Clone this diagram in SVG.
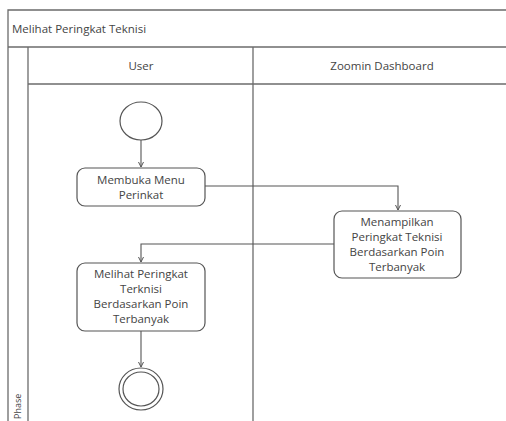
<svg xmlns="http://www.w3.org/2000/svg" width="506" height="421" viewBox="0 0 506 421">
<style>
.frame{fill:none;stroke:#6b6b6b;stroke-width:1.3}
.node{fill:#fff;stroke:#555;stroke-width:1.2}
.edge{fill:none;stroke:#555;stroke-width:1.1}
text{font-family:"Open Sans","Liberation Sans",sans-serif;font-size:11.5px;fill:#444}
.c{text-anchor:middle}
</style>
<defs>
<marker id="arr" markerWidth="6" markerHeight="6" refX="5" refY="3" orient="auto" markerUnits="userSpaceOnUse">
<path d="M0,0.5 L5,3 L0,5.5" fill="none" stroke="#555" stroke-width="1"/>
</marker>
</defs>
<rect width="506" height="421" fill="#fff"/>
<g id="pool">
<path class="frame" d="M8,421 V10 H506"/>
<line class="frame" x1="8" y1="47" x2="506" y2="47"/>
<line class="frame" x1="28" y1="84" x2="506" y2="84"/>
<line class="frame" x1="28" y1="47" x2="28" y2="421"/>
<line class="frame" x1="253" y1="47" x2="253" y2="421"/>
<text x="12" y="33" style="font-size:11.5px">Melihat Peringkat Teknisi</text>
<text class="c" x="141" y="70">User</text>
<text class="c" x="382" y="70">Zoomin Dashboard</text>
<text transform="translate(21,419) rotate(-90)" style="font-size:9px">Phase</text>
</g>
<g id="connectors">
<line class="edge" x1="141" y1="140" x2="141" y2="167" marker-end="url(#arr)"/>
<path class="edge" d="M205,186 H398 V210" marker-end="url(#arr)"/>
<path class="edge" d="M334,244 H141 V262" marker-end="url(#arr)"/>
<line class="edge" x1="141" y1="331" x2="141" y2="367" marker-end="url(#arr)"/>
</g>
<g id="start"><ellipse class="node" cx="141" cy="121" rx="21" ry="19"/></g>
<g id="a1">
<rect class="node" x="77" y="168" width="128" height="38" rx="8"/>
<text class="c" x="141" y="184">Membuka Menu</text>
<text class="c" x="141" y="199">Perinkat</text>
</g>
<g id="a2">
<rect class="node" x="334" y="211" width="127" height="67" rx="8"/>
<text class="c" x="397" y="226">Menampilkan</text>
<text class="c" x="397" y="241">Peringkat Teknisi</text>
<text class="c" x="397" y="256">Berdasarkan Poin</text>
<text class="c" x="397" y="271">Terbanyak</text>
</g>
<g id="a3">
<rect class="node" x="77" y="263" width="128" height="68" rx="8"/>
<text class="c" x="141" y="278">Melihat Peringkat</text>
<text class="c" x="141" y="293">Terknisi</text>
<text class="c" x="141" y="308">Berdasarkan Poin</text>
<text class="c" x="141" y="323">Terbanyak</text>
</g>
<g id="end">
<ellipse class="node" cx="141" cy="389" rx="22" ry="21"/>
<ellipse class="node" cx="141" cy="389" rx="18" ry="17"/>
</g>
</svg>
